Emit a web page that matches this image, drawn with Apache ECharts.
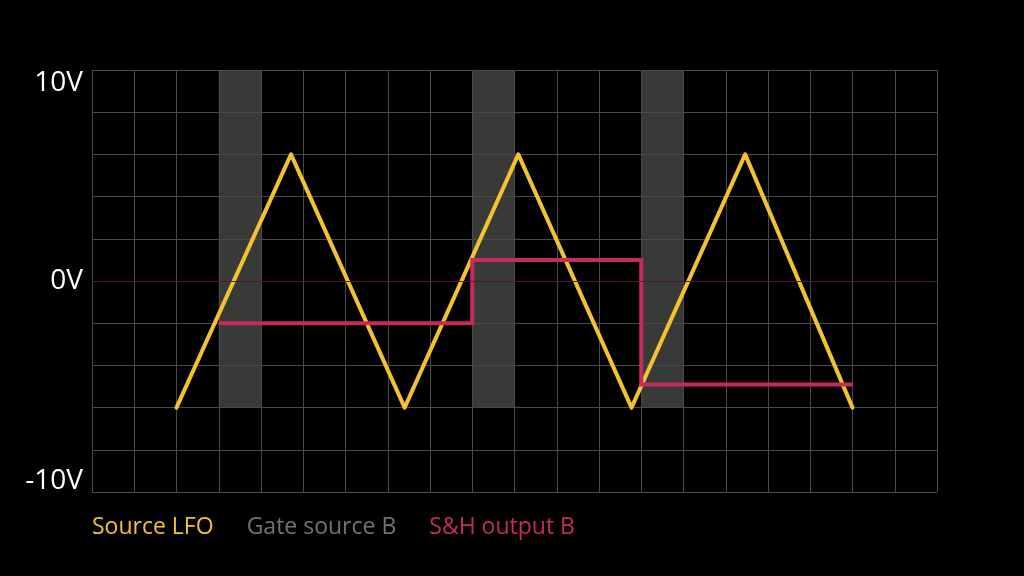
<!DOCTYPE html>
<html>
<head>
<meta charset="utf-8">
<script src="https://cdn.jsdelivr.net/npm/echarts@6/dist/echarts.min.js"></script>
<style>html,body{margin:0;padding:0;background:#000;}#c{width:1024px;height:576px;}</style>
</head>
<body>
<div id="c"></div>
<script>
// Source LFO triangle wave vertices [x, volts]
const lfoX = [2, 4.71, 7.4, 10.09, 12.77, 15.46, 18];
const lfoY = [-6, 6, -6, 6, -6, 6, -6];
// S&H output B step line vertices
const shX = [3, 9, 9, 13, 13, 18];
const shY = [-2, -2, 1, 1, -4.9, -4.9];
// Gate source B pulses
const gateStart = [3, 9, 13];
const gateEnd = [4, 10, 14];
const gateLow = -6;
const gateHigh = 10;
// Axis tick labels
const yLabels = {10: '{top|10V}', 0: '{mid|0V}', '-10': '{bot|-10V}'};
const names = ['Source LFO', 'Gate source B', 'S&H output B'];
const colors = ['#F2C230', '#707375', '#C72A5C'];

const lblFont = {color: '#fff', fontSize: 28, fontFamily: 'Open Sans'};
const chart = echarts.init(document.getElementById('c'));
chart.setOption({
  backgroundColor: '#000',
  animation: false,
  grid: {left: 92, right: 87, top: 70, bottom: 84},
  legend: {
    left: 82, top: 511, itemWidth: 0, itemHeight: 0, itemGap: 28, icon: 'none',
    textStyle: {fontSize: 23, fontFamily: 'Open Sans'},
    data: names.map((n, i) => ({name: n, textStyle: {color: colors[i]}}))
  },
  xAxis: {
    type: 'value', min: 0, max: 20, interval: 1,
    axisLine: {show: true, lineStyle: {color: '#4a4a4a', width: 1}},
    axisTick: {show: false}, axisLabel: {show: false},
    splitLine: {show: true, lineStyle: {color: '#4a4a4a', width: 1}}
  },
  yAxis: {
    type: 'value', min: -10, max: 10, interval: 2,
    axisLine: {show: true, lineStyle: {color: '#4a4a4a', width: 1}},
    axisTick: {show: false},
    axisLabel: {
      color: '#fff', fontSize: 28, fontFamily: 'Open Sans', margin: 9,
      formatter: v => yLabels[v] || '',
      rich: {
        top: Object.assign({padding: [26, 0, 0, 0]}, lblFont),
        mid: Object.assign({}, lblFont),
        bot: Object.assign({padding: [0, 0, 22, 0]}, lblFont)
      }
    },
    splitLine: {show: true, lineStyle: {color: '#4a4a4a', width: 1}}
  },
  series: [
    {
      name: 'Gate source B', type: 'line', data: [], z: 1,
      itemStyle: {color: colors[1]},
      markArea: {
        silent: true,
        itemStyle: {color: 'rgba(72,74,72,0.78)'},
        data: gateStart.map((s, i) => [{xAxis: s, yAxis: gateHigh}, {xAxis: gateEnd[i], yAxis: gateLow}])
      }
    },
    {
      name: 'Source LFO', type: 'line', z: 3, symbol: 'none',
      data: lfoX.map((x, i) => [x, lfoY[i]]),
      lineStyle: {color: colors[0], width: 4, cap: 'round', join: 'round'},
      itemStyle: {color: colors[0]},
      markLine: {
        silent: true, symbol: 'none', label: {show: false},
        lineStyle: {color: '#5c1730', width: 1, type: 'solid'},
        data: [{yAxis: 0}]
      }
    },
    {
      name: 'S&H output B', type: 'line', z: 4, symbol: 'none',
      data: shX.map((x, i) => [x, shY[i]]),
      lineStyle: {color: colors[2], width: 4, cap: 'butt', join: 'miter'},
      itemStyle: {color: colors[2]}
    }
  ]
});
</script>
</body>
</html>
